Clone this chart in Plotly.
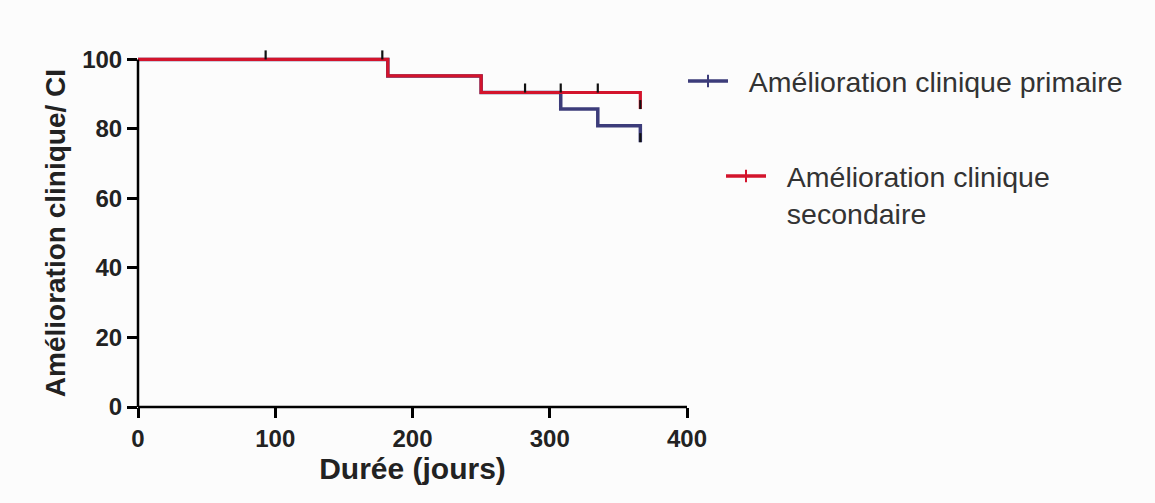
import plotly.graph_objects as go

# Kaplan-Meier step data (days, % improvement)
prim_t = [0, 182, 250, 308, 335, 366]
prim_s = [100, 95.24, 90.48, 85.71, 80.95, 76.19]
prim_cens_t = [366]
prim_cens_s = [76.19]

sec_t = [0, 182, 250, 366]
sec_s = [100, 95.24, 90.48, 85.71]
sec_cens_t = [93, 178, 282, 308, 335, 366]
sec_cens_s = [100, 100, 90.48, 90.48, 90.48, 85.71]

x_ticks = [0, 100, 200, 300, 400]
y_ticks = [0, 20, 40, 60, 80, 100]
y_max = 100

name_prim = "\u00a0\u00a0Amélioration clinique primaire"
name_sec = "\u00a0\u00a0Amélioration clinique<br>\u00a0\u00a0secondaire"
y_title = "Amélioration clinique/ CI"
x_title = "Durée (jours)"

BLUE = "#3c3c7a"
RED = "#d3142c"
TICK = "#111111"
TICK_UP = 2.6  # censor tick length in y units
FONT = "Liberation Sans"

fig = go.Figure()

# primary line (drawn first, under red)
fig.add_trace(go.Scatter(x=prim_t, y=prim_s, mode="lines", line=dict(color=BLUE, width=3.5, shape="hv"),
                         showlegend=False, legendgroup="p", cliponaxis=False, hoverinfo="x+y"))
fig.add_trace(go.Scatter(x=sec_t, y=sec_s, mode="lines", line=dict(color=RED, width=3.2, shape="hv"),
                         showlegend=False, legendgroup="s", cliponaxis=False, hoverinfo="x+y"))

# censor ticks
for ct, cs, g in [(prim_cens_t, prim_cens_s, "p"), (sec_cens_t, sec_cens_s, "s")]:
    fig.add_trace(go.Scatter(
        x=ct, y=cs, mode="markers", marker=dict(size=1, color="rgba(0,0,0,0)"),
        error_y=dict(type="data", symmetric=False, array=[TICK_UP] * len(ct), arrayminus=[0] * len(ct),
                     color=TICK, thickness=2.2, width=0),
        showlegend=False, legendgroup=g, cliponaxis=False, hoverinfo="skip"))

# legend proxies (line with censor tick)
fig.add_trace(go.Scatter(x=[None], y=[None], mode="lines+markers", name=name_prim, legendgroup="p",
                         line=dict(color=BLUE, width=3.5),
                         marker=dict(symbol="line-ns-open", size=9, line=dict(color=TICK, width=2)),
                         legend="legend"))
fig.add_trace(go.Scatter(x=[None], y=[None], mode="lines+markers", name=name_sec, legendgroup="s",
                         line=dict(color=RED, width=3.5),
                         marker=dict(symbol="line-ns-open", size=9, line=dict(color=TICK, width=2)),
                         legend="legend2"))

axis_common = dict(
    showgrid=False, zeroline=False, showline=False,
    ticks="outside", ticklen=10, tickwidth=2.5, tickcolor="black",
    tickfont=dict(family=FONT, size=24, color="#222222", weight="bold"),
)

# axis lines (x from 0 to 400, y from 0 to 100)
fig.add_shape(type="line", xref="x domain", yref="y domain", x0=0, x1=1, y0=0, y1=0,
              line=dict(color="black", width=2.5), layer="above")
fig.add_shape(type="line", xref="x domain", yref="y", x0=0, x1=0, y0=0, y1=y_max,
              line=dict(color="black", width=2.5), layer="above")

# y-axis title centred on the 0-100 span
fig.add_annotation(text=y_title, textangle=-90, xref="paper", x=0, xanchor="center", xshift=-83,
                   yref="y", y=y_max / 2, yanchor="middle", showarrow=False,
                   font=dict(family=FONT, size=28, color="#222222", weight="bold"))

fig.update_layout(
    width=1155, height=503,
    margin=dict(l=138, r=468, t=49, b=96, autoexpand=False),
    paper_bgcolor="#fcfcfc", plot_bgcolor="#fcfcfc",
    xaxis=dict(range=[0, 400], tickvals=x_ticks, ticktext=[str(v) for v in x_ticks],
               title=dict(text=x_title, font=dict(family=FONT, size=30, color="#222222", weight="bold"),
                          standoff=4),
               **axis_common),
    yaxis=dict(range=[0, 103], tickvals=y_ticks, ticktext=[str(v) for v in y_ticks], **axis_common),
    legend=dict(xref="container", yref="container", x=683 / 1155, y=1 - 56 / 503, xanchor="left", yanchor="top",
                font=dict(family=FONT, size=28.5, color="#333333"), bgcolor="rgba(0,0,0,0)", itemwidth=40,
                tracegroupgap=0),
    legend2=dict(xref="container", yref="container", x=721 / 1155, y=1 - 151 / 503, xanchor="left", yanchor="top",
                 font=dict(family=FONT, size=28.5, color="#333333"), bgcolor="rgba(0,0,0,0)", itemwidth=40,
                 valign="top"),
    showlegend=True,
)

fig.write_html("out.html")
